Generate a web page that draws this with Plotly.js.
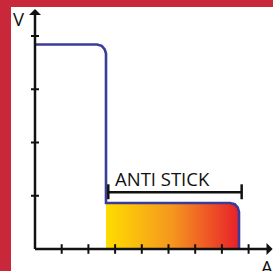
<!DOCTYPE html>
<html>
<head>
<meta charset="utf-8">
<script src="https://cdn.plot.ly/plotly-3.0.1.min.js"></script>
<style>html,body{margin:0;padding:0;background:#fff;}#chart{width:273px;height:271px;}</style>
</head>
<body>
<div id="chart"></div>
<script>
// Profile of voltage (V) versus current (A)
var profileX = [0, 2.32, 2.50, 2.61, 2.659, 2.659, 7.30, 7.48, 7.59, 7.64, 7.64];
var profileY = [3.84, 3.84, 3.815, 3.75, 3.671, 0.864, 0.864, 0.84, 0.78, 0.695, 0];
// Anti-stick region (filled)
var stickX = [2.659, 2.659, 7.30, 7.48, 7.59, 7.64, 7.64];
var stickY = [0, 0.864, 0.864, 0.84, 0.78, 0.695, 0];
// Anti-stick bracket
var bracketX = [2.745, 7.74];
var bracketY = 1.065;
var bracketLabel = "ANTI STICK";
// Axis ticks
var xTicks = [1, 2, 3, 4, 5, 6, 7, 8];
var yTicks = [1, 2, 3, 4];
var xAxisEnd = 8.9;
var yAxisEnd = 4.507;
var xLabel = "A";
var yLabel = "V";

var black = "#111111";
var shapes = [];
// red frame
shapes.push({type:'rect', xref:'paper', yref:'paper', x0:0, x1:11/273, y0:0, y1:1, fillcolor:'#c8283a', line:{width:0}, layer:'below'});
shapes.push({type:'rect', xref:'paper', yref:'paper', x0:0, x1:1, y0:1-7/271, y1:1, fillcolor:'#c8283a', line:{width:0}, layer:'below'});
// axes lines
shapes.push({type:'line', x0:0, x1:xAxisEnd-0.1, y0:0, y1:0, line:{color:black, width:2.5}});
shapes.push({type:'line', x0:0, x1:0, y0:0, y1:yAxisEnd-0.05, line:{color:black, width:2.5}});
// arrowheads
shapes.push({type:'path', path:'M '+xAxisEnd+' 0 L '+(xAxisEnd-0.23)+' 0.113 L '+(xAxisEnd-0.23)+' -0.113 Z', fillcolor:black, line:{width:0}});
shapes.push({type:'path', path:'M 0 '+yAxisEnd+' L 0.225 '+(yAxisEnd-0.113)+' L -0.225 '+(yAxisEnd-0.113)+' Z', fillcolor:black, line:{width:0}});
// ticks crossing the axes
xTicks.forEach(function(t){
  shapes.push({type:'line', x0:t, x1:t, y0:-0.09, y1:0.09, line:{color:black, width:2}});
});
yTicks.forEach(function(t){
  shapes.push({type:'line', x0:-0.15, x1:0.15, y0:t, y1:t, line:{color:black, width:2}});
});
// bracket
shapes.push({type:'line', x0:bracketX[0], x1:bracketX[1], y0:bracketY, y1:bracketY, line:{color:black, width:2.5}});
shapes.push({type:'line', x0:bracketX[0], x1:bracketX[0], y0:bracketY-0.13, y1:bracketY+0.15, line:{color:black, width:2.5}});
shapes.push({type:'line', x0:bracketX[1], x1:bracketX[1], y0:bracketY-0.13, y1:bracketY+0.15, line:{color:black, width:2.5}});

var traces = [
  {x:stickX, y:stickY, type:'scatter', mode:'lines', fill:'toself', line:{width:0, color:'rgba(0,0,0,0)'},
   fillgradient:{type:'horizontal', colorscale:[[0,'#ffdc00'],[0.5,'#f5961f'],[1,'#e8202a']]}, hoverinfo:'skip'},
  {x:profileX, y:profileY, type:'scatter', mode:'lines', line:{color:'#3b3b98', width:2.6}, hoverinfo:'skip'}
];

var font = {family:'"Open Sans", sans-serif', size:18.5, color:black};
var layout = {
  width:273, height:271, margin:{l:0, r:0, t:0, b:0},
  paper_bgcolor:'#ffffff', plot_bgcolor:'#ffffff', showlegend:false,
  xaxis:{range:[-1.311, 8.914], visible:false, fixedrange:true},
  yaxis:{range:[-0.413, 4.676], visible:false, fixedrange:true},
  shapes:shapes,
  annotations:[
    {x:4.775, y:1.33, text:bracketLabel, showarrow:false, font:font, xanchor:'center', yanchor:'middle'},
    {x:-0.6, y:4.32, text:yLabel, showarrow:false, font:font, xanchor:'center', yanchor:'middle'},
    {x:8.69, y:-0.33, text:xLabel, showarrow:false, font:font, xanchor:'center', yanchor:'middle'}
  ]
};
Plotly.newPlot('chart', traces, layout, {displayModeBar:false, staticPlot:true});
</script>
</body>
</html>
